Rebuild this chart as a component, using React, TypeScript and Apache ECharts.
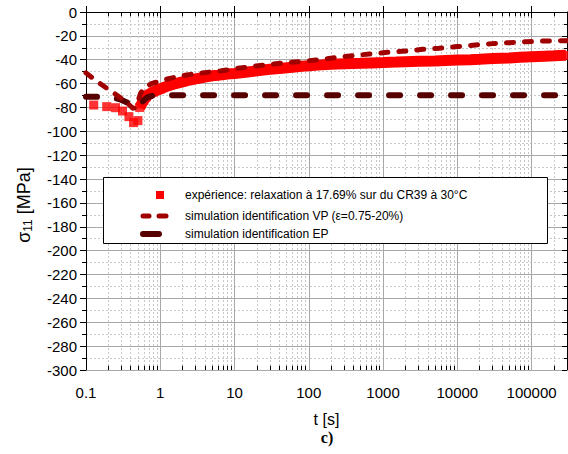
import React, { useEffect, useRef } from "react";
import * as echarts from "echarts";

// experiment: relaxation (t [s], sigma11 [MPa])
const expTimes = [
  0.127, 0.19, 0.25, 0.31, 0.378, 0.437, 0.5,
  0.53, 0.56, 0.6, 0.65, 0.7, 0.8, 0.9, 1, 1.2, 1.5, 2, 2.5, 3, 4, 5, 6, 8, 10,
  15, 20, 30, 40, 60, 80, 100, 150, 200, 300, 500, 700, 1000, 1500, 2000, 3000,
  5000, 7000, 10000, 15000, 20000, 30000, 50000, 70000, 100000, 150000, 200000, 290000,
];
const expValues = [
  -78, -79.3, -80.2, -83, -87.7, -92.7, -91,
  -80, -77, -74, -71, -69, -67, -65.5, -64.5, -62.5, -60.5, -58.5, -57, -56, -54.5, -53.5, -53, -52, -51.5,
  -50.3, -49.3, -48, -47.3, -46.3, -45.5, -45, -44.3, -43.8, -43.3, -43, -42.7, -42.4, -42, -41.7, -41.3,
  -41, -40.6, -40.3, -40, -39.6, -39, -38.5, -38, -37.5, -37, -36.7, -36.3,
];
const expBandStart = 7; // index where the dense band begins

// simulation VP
const vpTimes = [
  0.1, 0.142, 0.238, 0.34, 0.44, 0.5, 0.543, 0.63, 0.78, 1.34, 2.25, 3.96, 6.65, 11.1, 19.5,
  32.8, 58, 92, 154, 250, 389, 653, 1150, 2030, 3390, 5690, 10000, 17600, 29500, 50000,
  87000, 154000, 300000,
];
const vpValues = [
  -51, -58.4, -68, -75, -81.3, -75, -68, -62.6, -59.8, -55.6, -52.8, -50.8, -49.2, -47.2, -45.2,
  -43.6, -42.2, -41, -39.7, -37.8, -36.6, -35.2, -33.8, -32.7, -31.3, -30.4, -29, -27.6, -26.5, -25.7,
  -24.9, -24.3, -24,
];

// simulation EP
const epTimes = [0.1, 0.2, 0.28, 0.36, 0.44, 0.54, 0.67, 0.8, 1, 10, 100, 1000, 10000, 100000, 300000];
const epValues = [-71, -71.2, -73, -76, -80.5, -76.5, -71.5, -70, -69.7, -69.7, -69.7, -69.7, -69.7, -69.7, -69.7];

const yTicks = { min: -300, max: 0, interval: 20 };
const xRange = { min: 0.1, max: 300000 };

const names = {
  exp: "expérience: relaxation à 17.69% sur du CR39 à 30°C",
  vp: "simulation identification VP (ε=0.75-20%)",
  ep: "simulation identification EP",
};

const RED = "#ff0000";
const VP = "#a00000";
const EP = "#580000";
const FONT = '"Liberation Sans", Arial, sans-serif';

export default function App() {
  const ref = useRef<HTMLDivElement>(null);
  useEffect(() => {
    if (!ref.current) return;
    const chart = echarts.init(ref.current, undefined, { renderer: "svg" });

    const pair = (ts: number[], vs: number[]) => ts.map((t, i) => [t, vs[i]]);
    const expData = pair(expTimes, expValues);
    const bandData = expData.slice(expBandStart);

    // minor log positions 2..9 per decade
    const minorX: number[] = [];
    for (let d = -1; d <= 5; d++) {
      for (let m = 2; m <= 9; m++) {
        const v = Number((m * Math.pow(10, d)).toPrecision(3));
        if (v < xRange.max) minorX.push(v);
      }
    }
    const mlData: any[] = [];
    minorX.forEach((v) => mlData.push({ xAxis: v }));
    const tickStyle = { type: "solid", color: "#000", width: 1 };
    minorX.forEach((v) => {
      mlData.push([
        { coord: [v, 0], lineStyle: tickStyle },
        { coord: [v, -3.5] },
      ]);
      mlData.push([
        { coord: [v, -300], lineStyle: tickStyle },
        { coord: [v, -296.5] },
      ]);
    });

    const fmt = (v: number) => (v >= 1 ? String(Math.round(v)) : String(Number(v.toPrecision(3))));

    const option: any = {
      animation: false,
      textStyle: { fontFamily: FONT },
      grid: { left: 86, right: 1, top: 12, bottom: 84 },
      xAxis: [
        {
          type: "log",
          logBase: 10,
          min: xRange.min,
          max: xRange.max,
          position: "bottom",
          name: "t [s]",
          nameLocation: "middle",
          nameGap: 41,
          nameTextStyle: { fontSize: 16, color: "#000", fontFamily: FONT },
          axisLine: { show: true, lineStyle: { color: "#000", width: 1 } },
          axisTick: { show: true, inside: true, length: 6, lineStyle: { color: "#000" } },
          axisLabel: {
            color: "#000",
            fontSize: 15,
            margin: 15,
            showMaxLabel: false,
            formatter: fmt,
          },
          splitLine: { show: true, lineStyle: { color: "#a8a8a8", width: 1 } },
        },
        {
          type: "log",
          logBase: 10,
          min: xRange.min,
          max: xRange.max,
          position: "top",
          axisLine: { show: true, lineStyle: { color: "#000", width: 1 } },
          axisTick: { show: true, inside: true, length: 6, lineStyle: { color: "#000" } },
          axisLabel: { show: false },
          splitLine: { show: false },
        },
      ],
      yAxis: [
        {
          type: "value",
          min: yTicks.min,
          max: yTicks.max,
          interval: yTicks.interval,
          position: "left",
          name: "{a|σ}{b|11}{a| [MPa]}",
          nameLocation: "middle",
          nameRotate: 90,
          nameGap: 52,
          nameTextStyle: {
            color: "#000",
            padding: [0, 28, 0, 0],
            rich: {
              a: { fontSize: 18, fontFamily: FONT, color: "#000" },
              b: { fontSize: 12, fontFamily: FONT, color: "#000", padding: [8, 0, 0, 0] },
            },
          },
          axisLine: { show: true, lineStyle: { color: "#000", width: 1 } },
          axisTick: { show: true, inside: false, length: 6, lineStyle: { color: "#000" } },
          minorTick: { show: true, splitNumber: 2, length: 4, lineStyle: { color: "#000" } },
          axisLabel: { color: "#000", fontSize: 15, margin: 9 },
          splitLine: { show: true, lineStyle: { color: "#a8a8a8", width: 1 } },
          minorSplitLine: { show: true, lineStyle: { color: "#c8c8c8", width: 1, type: [2, 2] } },
        },
        {
          type: "value",
          min: yTicks.min,
          max: yTicks.max,
          interval: yTicks.interval,
          position: "right",
          axisLine: { show: true, lineStyle: { color: "#000", width: 1 } },
          axisTick: { show: true, inside: true, length: 5, lineStyle: { color: "#000" } },
          minorTick: { show: true, splitNumber: 2, length: 3, lineStyle: { color: "#000" } },
          axisLabel: { show: false },
          splitLine: { show: false },
        },
      ],
      series: [
        {
          name: names.ep,
          type: "line",
          xAxisIndex: 0,
          yAxisIndex: 0,
          data: pair(epTimes, epValues),
          showSymbol: false,
          z: 4,
          lineStyle: { color: EP, width: 6, type: [11, 20], cap: "round" },
          itemStyle: { color: EP },
          markLine: {
            silent: true,
            z: 1,
            symbol: "none",
            label: { show: false },
            lineStyle: { color: "#c8c8c8", width: 1, type: [2, 2] },
            emphasis: { disabled: true },
            data: mlData,
          },
        },
        {
          name: names.exp,
          type: "line",
          xAxisIndex: 0,
          yAxisIndex: 0,
          data: bandData,
          showSymbol: false,
          z: 3,
          lineStyle: { color: RED, width: 11 },
          itemStyle: { color: RED },
        },
        {
          name: names.exp,
          type: "scatter",
          xAxisIndex: 0,
          yAxisIndex: 0,
          data: expData,
          symbol: "rect",
          symbolSize: 9,
          z: 3,
          itemStyle: { color: RED },
        },
        {
          name: names.vp,
          type: "line",
          xAxisIndex: 0,
          yAxisIndex: 0,
          data: pair(vpTimes, vpValues),
          showSymbol: false,
          z: 5,
          lineStyle: { color: VP, width: 5, type: [7, 11], cap: "round" },
          itemStyle: { color: VP },
        },
      ],
      legend: { show: false },
      graphic: [
        {
          type: "group",
          z: 100,
          children: [
            {
              type: "rect",
              z: 100,
              shape: { x: 103.5, y: 177.5, width: 444, height: 66 },
              style: { fill: "#fff", stroke: "#000", lineWidth: 1 },
            },
            {
              type: "rect",
              z: 101,
              shape: { x: 156, y: 191, width: 8, height: 8 },
              style: { fill: RED },
            },
            {
              type: "line",
              z: 101,
              shape: { x1: 143, y1: 216, x2: 149, y2: 216 },
              style: { stroke: VP, lineWidth: 5, lineCap: "round" },
            },
            {
              type: "line",
              z: 101,
              shape: { x1: 159, y1: 216, x2: 166, y2: 216 },
              style: { stroke: VP, lineWidth: 5, lineCap: "round" },
            },
            {
              type: "line",
              z: 101,
              shape: { x1: 143, y1: 234, x2: 159, y2: 234 },
              style: { stroke: EP, lineWidth: 6, lineCap: "round" },
            },
            {
              type: "text",
              z: 101,
              x: 185,
              y: 195,
              style: { text: names.exp, fontSize: 12, fontFamily: FONT, fill: "#000", verticalAlign: "middle" },
            },
            {
              type: "text",
              z: 101,
              x: 185,
              y: 216,
              style: { text: names.vp, fontSize: 12, fontFamily: FONT, fill: "#000", verticalAlign: "middle" },
            },
            {
              type: "text",
              z: 101,
              x: 185,
              y: 234,
              style: { text: names.ep, fontSize: 12, fontFamily: FONT, fill: "#000", verticalAlign: "middle" },
            },
          ],
        },
        {
          type: "text",
          z: 100,
          x: 327,
          y: 437,
          style: {
            text: "c)",
            fontSize: 16,
            fontWeight: "bold",
            fontFamily: '"Liberation Serif", "Times New Roman", serif',
            fill: "#000",
            align: "center",
            verticalAlign: "middle",
          },
        },
      ],
    };
    chart.setOption(option);
    return () => chart.dispose();
  }, []);

  return (
    <div
      ref={ref}
      style={{ position: "fixed", left: 0, top: 0, width: 568, height: 454, background: "#fff" }}
    />
  );
}
